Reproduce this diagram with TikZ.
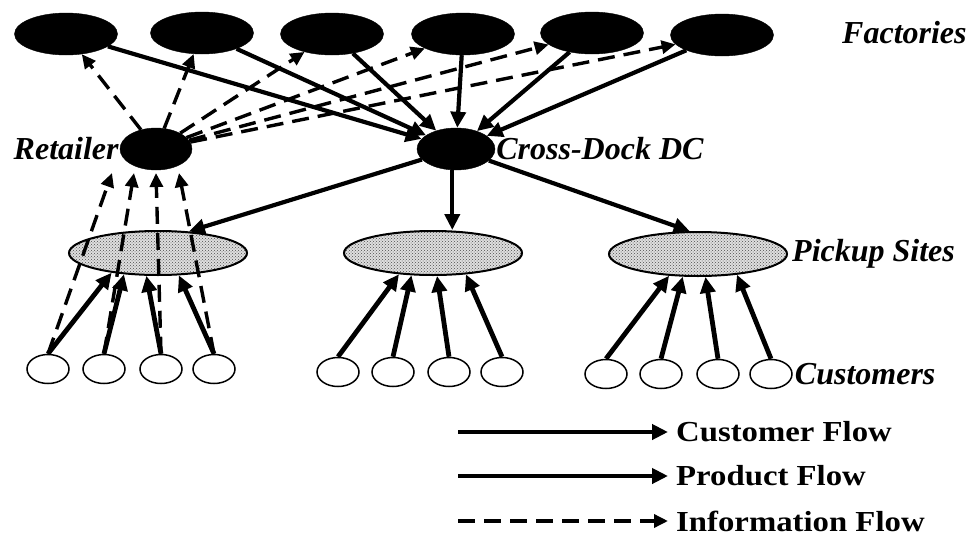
\documentclass[tikz,border=0pt]{standalone}
\usepackage{fontspec}
\setmainfont{Liberation Serif}
\newfontfamily\legfont[FakeStretch = 1.13]{Liberation Serif}
\usepackage{tikz}
\usetikzlibrary{shapes.geometric,arrows.meta,patterns,positioning}

\begin{document}
\begin{tikzpicture}[x = 1pt, y = -1pt,
                      factory/.style = {ellipse, draw, fill = black, minimum width = 103pt, minimum height = 42pt, inner sep = 0pt},
                      hub/.style = {ellipse, draw, fill = black, minimum width = 72pt, minimum height = 42pt, inner sep = 0pt},
                      pickup/.style = {ellipse, draw, line width = 2pt, preaction = {fill = gray!25}, pattern = crosshatch dots, pattern color = black!70, minimum width = 178pt, minimum height = 44pt, inner sep = 0pt},
                      cust/.style = {ellipse, draw, line width = 1.5pt, minimum width = 42pt, minimum height = 29pt, inner sep = 0pt},
                      prod/.style = {-{Triangle[length = 16pt, width = 15pt]}, line width = 4.2pt},
                      custflow/.style = {-{Triangle[length = 16pt, width = 15pt]}, line width = 4.8pt},
                      info/.style = {-{Triangle[length = 14pt, width = 13pt]}, line width = 3.4pt, dash pattern = on 17pt off 9pt},
                      lbl/.style = {font = \fontsize{32}{36}\selectfont\bfseries\itshape, inner sep = 1pt},
                      leg/.style = {font = \fontsize{29}{33}\selectfont\legfont\bfseries, anchor = west, inner sep = 0pt}]
    \useasboundingbox (0, 0) rectangle (967, 549);

    % factories
    \node [factory] (f1) at (66, 34){};
    \node [factory] (f2) at (202, 33){};
    \node [factory] (f3) at (332, 34){};
    \node [factory] (f4) at (463, 34){};
    \node [factory] (f5) at (592, 33){};
    \node [factory] (f6) at (722, 35){};
    \node [lbl, anchor = west] (factl) at (841, 33) {Factories};

    % retailer and cross-dock
    \node [hub] (rt) at (156, 149){};
    \node [hub, minimum width = 78pt] (dc) at (456, 149){};
    \node [lbl, left = 0pt of rt] (rtl) {Retailer};
    \node [lbl, right = 0pt of dc] (dcl) {Cross-Dock DC};

    % pickup sites
    \node [pickup] (p1) at (158, 253){};
    \node [pickup] (p2) at (433, 253){};
    \node [pickup] (p3) at (698, 254){};
    \node [lbl, right = 3pt of p3] (pl) {Pickup Sites};

    % customers
    \node [cust] (c1) at (48, 369){};
    \node [cust] (c2) at (104, 369){};
    \node [cust] (c3) at (161, 369){};
    \node [cust] (c4) at (214, 369){};
    \node [cust] (c5) at (338, 372){};
    \node [cust] (c6) at (393, 372){};
    \node [cust] (c7) at (449, 372){};
    \node [cust] (c8) at (502, 372){};
    \node [cust] (c9) at (606, 374){};
    \node [cust] (c10) at (661, 374){};
    \node [cust] (c11) at (718, 374){};
    \node [cust] (c12) at (771, 374){};
    \node [lbl, right = 1pt of c12] (cl) {Customers};

    % product flow
    \draw[prod] (f1) -- (dc);
    \draw[prod] (f2) -- (dc);
    \draw[prod] (f3) -- (dc);
    \draw[prod] (f4) -- (dc);
    \draw[prod] (f5) -- (dc);
    \draw[prod] (f6) -- (dc);
    \draw[prod] (dc) -- (p1.35);
    \draw[prod] (dc.-100) -- (dc.-100 |- p2.north);
    \draw[prod] (dc) -- (p3.110);

    % information flow
    \draw[info] (rt) -- (f1);
    \draw[info] (rt) -- (f2);
    \draw[info] (rt) -- (f3);
    \draw[info] (rt) -- (f4);
    \draw[info] (rt) -- (f5);
    \draw[info] (rt) -- (f6);
    \coordinate (r1) at (112, 173);
    \coordinate (r2) at (134, 173);
    \coordinate (r3) at (156, 173);
    \coordinate (r4) at (179, 173);
    \draw[info] (c1.north) -- (r1);
    \draw[info] (c2.north) -- (r2);
    \draw[info] (c3.north) -- (r3);
    \draw[info] (c4.north) -- (r4);

    % customer flow
    \draw[custflow] (c1.north) -- (p1.-157);
    \draw[custflow] (c2.north) -- (p1.-148);
    \draw[custflow] (c3.north) -- (p1.-117);
    \draw[custflow] (c4.north) -- (p1.-47);
    \draw[custflow] (c5.north) -- (p2.-148);
    \draw[custflow] (c6.north) -- (p2.-134);
    \draw[custflow] (c7.north) -- (p2.-80);
    \draw[custflow] (c8.north) -- (p2.-33);
    \draw[custflow] (c9.north) -- (p3.-143);
    \draw[custflow] (c10.north) -- (p3.-124);
    \draw[custflow] (c11.north) -- (p3.-72);
    \draw[custflow] (c12.north) -- (p3.-28);

    % legend
    \coordinate (cfa) at (458, 432);
    \coordinate (cfb) at (668, 432);
    \coordinate (pfa) at (458, 476);
    \coordinate (pfb) at (668, 476);
    \coordinate (ifa) at (458, 521);
    \coordinate (ifb) at (668, 521);
    \draw[custflow] (cfa) -- (cfb);
    \draw[prod] (pfa) -- (pfb);
    \draw[info] (ifa) -- (ifb);
    \node [leg] (cfl) at (676, 432) {Customer Flow};
    \node [leg] (pfl) at (676, 476) {Product Flow};
    \node [leg] (ifl) at (676, 521) {Information Flow};
    \end{tikzpicture}
\end{document}
